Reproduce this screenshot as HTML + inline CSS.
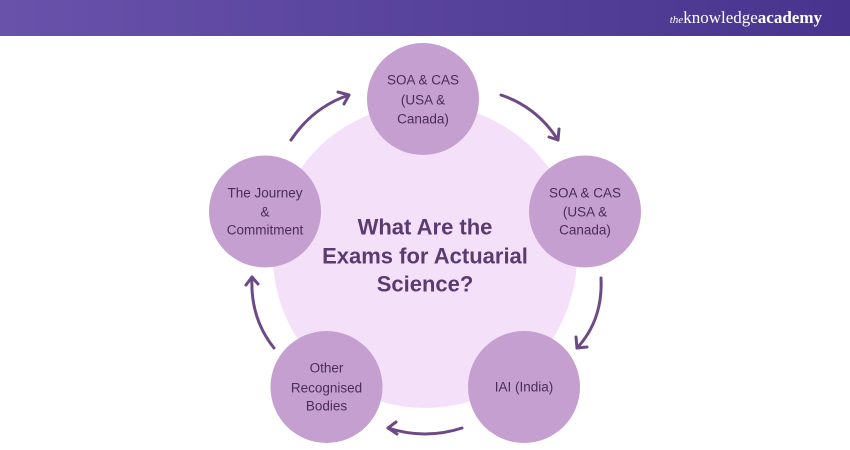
<!DOCTYPE html>
<html>
<head>
<meta charset="utf-8">
<style>
  html,body{margin:0;padding:0;background:#fff;}
  body{width:850px;height:450px;overflow:hidden;}
  svg{display:block;}
  .sm{font-family:"Liberation Sans",sans-serif;font-size:13.5px;fill:#4a2c5c;text-anchor:middle;dominant-baseline:central;}
  .tt{font-family:"Liberation Sans",sans-serif;font-size:22px;font-weight:bold;fill:#5b3a70;text-anchor:middle;dominant-baseline:central;}
  .ar{fill:none;stroke:#6d4a86;stroke-width:3;stroke-linecap:round;stroke-linejoin:round;}
</style>
</head>
<body>
<svg width="850" height="450" viewBox="0 0 850 450" xmlns="http://www.w3.org/2000/svg">
  <defs>
    <linearGradient id="hg" x1="0" y1="0" x2="1" y2="0">
      <stop offset="0" stop-color="#6852aa"/>
      <stop offset="1" stop-color="#48348e"/>
    </linearGradient>
  </defs>
  <rect x="0" y="0" width="850" height="36" fill="url(#hg)"/>
  <text x="822" y="23" text-anchor="end" fill="#ffffff" font-family="Liberation Serif, serif" font-size="17"><tspan font-style="italic" font-size="11">the</tspan><tspan>knowledge</tspan><tspan font-weight="bold">academy</tspan></text>

  <!-- big circle -->
  <circle cx="425" cy="256" r="152" fill="#f4e1f9"/>

  <!-- small circles -->
  <circle cx="423" cy="99" r="56" fill="#c49fcf"/>
  <circle cx="585" cy="211.5" r="56" fill="#c49fcf"/>
  <circle cx="265" cy="211.5" r="56" fill="#c49fcf"/>
  <circle cx="524" cy="387" r="56" fill="#c49fcf"/>
  <circle cx="326.5" cy="387" r="56" fill="#c49fcf"/>

  <!-- title -->
  <text class="tt" x="425" y="227">What Are the</text>
  <text class="tt" x="425" y="256">Exams for Actuarial</text>
  <text class="tt" x="425" y="284">Science?</text>

  <!-- small texts -->
  <text class="sm" x="423" y="80">SOA &amp; CAS</text>
  <text class="sm" x="423" y="100">(USA &amp;</text>
  <text class="sm" x="423" y="119">Canada)</text>

  <text class="sm" x="585" y="193">SOA &amp; CAS</text>
  <text class="sm" x="585" y="212">(USA &amp;</text>
  <text class="sm" x="585" y="230">Canada)</text>

  <text class="sm" x="265" y="193">The Journey</text>
  <text class="sm" x="265" y="212">&amp;</text>
  <text class="sm" x="265" y="230">Commitment</text>

  <text class="sm" x="326.5" y="368">Other</text>
  <text class="sm" x="326.5" y="388">Recognised</text>
  <text class="sm" x="326.5" y="406">Bodies</text>

  <text class="sm" x="524" y="387">IAI (India)</text>

  <!-- arrows -->
  <path class="ar" d="M291,140 Q313,107 349,95"/>
  <path class="ar" d="M338,92 L349,95 L344,104"/>

  <path class="ar" d="M501,95 Q537,107 558,140"/>
  <path class="ar" d="M549,137 L558,140 L559,129"/>

  <path class="ar" d="M601,278 Q603,320 577,348"/>
  <path class="ar" d="M576,337 L577,348 L587,347"/>

  <path class="ar" d="M462,428 Q425,440 388,428"/>
  <path class="ar" d="M396,422 L388,428 L397,434"/>

  <path class="ar" d="M274,348 Q250,318 252,277"/>
  <path class="ar" d="M246,285 L252,277 L258,284"/>
</svg>
</body>
</html>
